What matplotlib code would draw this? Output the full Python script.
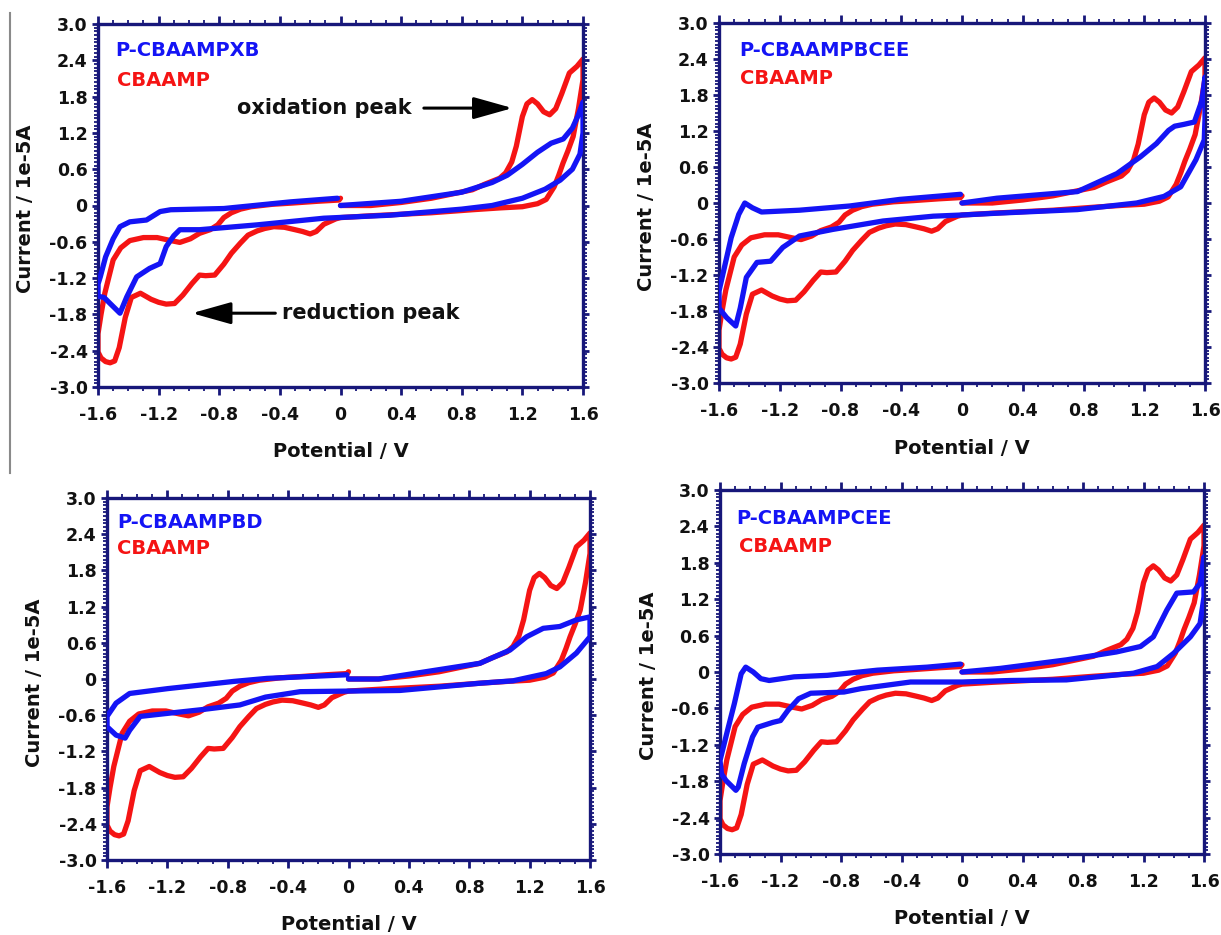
import matplotlib
matplotlib.use("Agg")
import matplotlib.pyplot as plt
from matplotlib.ticker import MultipleLocator, FixedLocator
from matplotlib.lines import Line2D

# ---------------- data (potential in V, current in 1e-5 A), in sweep order ----------------
cbaamp_E = [0.0, 0.2, 0.4, 0.6, 0.87, 0.95, 1.05, 1.09, 1.13, 1.16, 1.20, 1.23, 1.265, 1.30, 1.34,
            1.38, 1.42, 1.46, 1.51, 1.56, 1.60,
            1.60, 1.57, 1.535, 1.50, 1.468, 1.44, 1.41, 1.357, 1.30, 1.20, 1.05, 0.87, 0.6, 0.2, 0.0,
            -0.03, -0.11, -0.16, -0.20, -0.25, -0.30, -0.37, -0.44, -0.50, -0.55, -0.61, -0.66, -0.72,
            -0.77, -0.83, -0.89, -0.93, -0.98, -1.04, -1.095, -1.15, -1.20, -1.25, -1.32, -1.38, -1.42,
            -1.46, -1.49, -1.52, -1.55, -1.58, -1.60,
            -1.60, -1.58, -1.555, -1.53, -1.50, -1.45, -1.39, -1.30, -1.21, -1.12, -1.06, -0.99, -0.93,
            -0.86, -0.81, -0.77, -0.72, -0.66, -0.59, -0.45, -0.32, -0.15, -0.01, 0.0]
cbaamp_I = [0.0, 0.0, 0.05, 0.12, 0.26, 0.35, 0.45, 0.54, 0.72, 0.98, 1.47, 1.68, 1.75, 1.68, 1.55,
            1.50, 1.60, 1.85, 2.19, 2.30, 2.42,
            2.08, 1.60, 1.14, 0.90, 0.70, 0.50, 0.31, 0.10, 0.03, -0.02, -0.04, -0.07, -0.12, -0.17, -0.20,
            -0.22, -0.31, -0.43, -0.47, -0.43, -0.40, -0.36, -0.35, -0.38, -0.42, -0.49, -0.62, -0.79,
            -0.97, -1.15, -1.16, -1.15, -1.29, -1.48, -1.62, -1.63, -1.60, -1.55, -1.45, -1.52, -1.85,
            -2.35, -2.57, -2.60, -2.58, -2.52, -2.42,
            -2.12, -1.80, -1.45, -1.20, -0.90, -0.70, -0.58, -0.53, -0.53, -0.58, -0.61, -0.55, -0.46,
            -0.40, -0.32, -0.20, -0.12, -0.06, -0.02, 0.02, 0.04, 0.07, 0.09, 0.12]

xb_E = [0.0, 0.4, 0.8, 1.0, 1.1, 1.2, 1.3, 1.39, 1.47, 1.53, 1.57, 1.60,
        1.60, 1.58, 1.53, 1.45, 1.35, 1.20, 1.0, 0.8, 0.33, -0.11, -0.55, -0.93, -1.06, -1.10, -1.15,
        -1.19, -1.26, -1.345, -1.41, -1.455, -1.52, -1.56, -1.60,
        -1.60, -1.585, -1.55, -1.50, -1.455, -1.39, -1.28, -1.19, -1.12, -0.77, -0.33, -0.02]
xb_I = [0.0, 0.07, 0.22, 0.38, 0.50, 0.68, 0.88, 1.03, 1.10, 1.28, 1.50, 1.71,
        1.20, 0.85, 0.60, 0.42, 0.27, 0.12, 0.0, -0.06, -0.16, -0.21, -0.32, -0.40, -0.40, -0.50, -0.68,
        -0.96, -1.04, -1.18, -1.51, -1.78, -1.62, -1.52, -1.50,
        -1.30, -1.18, -0.85, -0.55, -0.35, -0.27, -0.24, -0.10, -0.07, -0.05, 0.06, 0.12]

bcee_E = [0.0, 0.23, 0.76, 1.02, 1.175, 1.28, 1.36, 1.40, 1.46, 1.53, 1.58, 1.60,
          1.60, 1.595, 1.54, 1.44, 1.33, 1.15, 0.76, 0.23, 0.0, -0.19, -0.52, -0.85, -1.07, -1.18,
          -1.26, -1.35, -1.42, -1.46, -1.49, -1.55, -1.60,
          -1.60, -1.565, -1.52, -1.47, -1.43, -1.38, -1.32, -1.07, -0.74, -0.41, -0.01]
bcee_I = [0.0, 0.08, 0.19, 0.49, 0.77, 0.99, 1.21, 1.28, 1.31, 1.35, 1.71, 2.10,
          1.40, 1.05, 0.72, 0.27, 0.11, 0.0, -0.11, -0.17, -0.20, -0.22, -0.30, -0.44, -0.55, -0.74,
          -0.97, -0.99, -1.24, -1.75, -2.05, -1.91, -1.75,
          -1.47, -1.08, -0.58, -0.19, 0.0, -0.08, -0.15, -0.12, -0.05, 0.06, 0.145]

bd_E = [0.0, 0.2, 0.87, 1.07, 1.18, 1.29, 1.40, 1.51, 1.60,
        1.60, 1.51, 1.40, 1.31, 1.09, 0.87, 0.34, -0.32, -0.55, -0.72, -0.98, -1.20, -1.38, -1.45,
        -1.48, -1.54, -1.60,
        -1.60, -1.54, -1.45, -1.20, -0.76, -0.54, -0.01]
bd_I = [0.0, 0.0, 0.26, 0.48, 0.70, 0.84, 0.87, 0.98, 1.03,
        0.70, 0.43, 0.20, 0.09, -0.03, -0.07, -0.19, -0.21, -0.30, -0.43, -0.51, -0.57, -0.62, -0.85,
        -0.98, -0.93, -0.79,
        -0.62, -0.40, -0.24, -0.16, -0.04, 0.01, 0.07]

cee_E = [0.0, 0.255, 0.69, 1.02, 1.18, 1.265, 1.354, 1.42, 1.53, 1.574, 1.60,
         1.60, 1.574, 1.51, 1.40, 1.29, 1.134, 0.69, 0.32, 0.0, -0.34, -0.67, -0.78, -1.0, -1.08,
         -1.15, -1.20, -1.25, -1.35, -1.385, -1.44, -1.48, -1.495, -1.56, -1.59,
         -1.60, -1.55, -1.505, -1.46, -1.43, -1.38, -1.33, -1.275, -1.11, -0.89, -0.56, -0.23, -0.01]
cee_I = [0.0, 0.06, 0.20, 0.33, 0.42, 0.58, 1.02, 1.30, 1.32, 1.46, 1.90,
         1.24, 0.80, 0.58, 0.31, 0.09, -0.02, -0.13, -0.14, -0.165, -0.165, -0.275, -0.33, -0.35, -0.44,
         -0.63, -0.80, -0.83, -0.91, -1.07, -1.51, -1.90, -1.95, -1.79, -1.68,
         -1.46, -0.96, -0.52, -0.03, 0.08, 0.0, -0.11, -0.14, -0.08, -0.055, 0.03, 0.08, 0.13]

panel_names = ["P-CBAAMPXB", "P-CBAAMPBCEE", "P-CBAAMPBD", "P-CBAAMPCEE"]
panel_E = [xb_E, bcee_E, bd_E, cee_E]
panel_I = [xb_I, bcee_I, bd_I, cee_I]
ref_name = "CBAAMP"

x_ticks = [-1.6, -1.2, -0.8, -0.4, 0.0, 0.4, 0.8, 1.2, 1.6]
x_ticklabels = ["-1.6", "-1.2", "-0.8", "-0.4", "0", "0.4", "0.8", "1.2", "1.6"]
y_ticks = [3.0, 2.4, 1.8, 1.2, 0.6, 0.0, -0.6, -1.2, -1.8, -2.4, -3.0]
y_ticklabels = ["3.0", "2.4", "1.8", "1.2", "0.6", "0", "-0.6", "-1.2", "-1.8", "-2.4", "-3.0"]

# ---------------- styling ----------------
W, H = 1221, 935
fig = plt.figure(figsize=(W / 100, H / 100), dpi=100)
fig.patch.set_facecolor("white")
plt.rcParams["font.family"] = ["DejaVu Sans"]

NAVY = "#17177a"
BLUE = "#1414f5"
RED = "#f51414"

# axes rectangles in pixels: left, top, right, bottom
rects = [(98, 24, 583, 387), (719, 23, 1205, 383), (107, 498, 590, 860), (720, 490, 1204, 854)]
legend_off = [((17, 26), (19, 56)), ((20, 28), (21, 56)), ((10, 24), (10, 51)), ((16, 28), (19, 57))]

axes = []
for k, (l, t, r, b) in enumerate(rects):
    ax = fig.add_axes([l / W, 1 - b / H, (r - l) / W, (b - t) / H])
    axes.append(ax)
    ax.plot(cbaamp_E, cbaamp_I, color=RED, lw=3.8, solid_joinstyle="round", solid_capstyle="round", zorder=2)
    ax.plot(panel_E[k], panel_I[k], color=BLUE, lw=3.8, solid_joinstyle="round", solid_capstyle="round", zorder=3)
    ax.set_xlim(-1.6, 1.6)
    ax.set_ylim(-3.0, 3.0)
    ax.xaxis.set_major_locator(FixedLocator(x_ticks))
    ax.set_xticklabels(x_ticklabels)
    ax.yaxis.set_major_locator(FixedLocator(y_ticks))
    ax.set_yticklabels(y_ticklabels)
    ax.xaxis.set_minor_locator(MultipleLocator(0.1))
    ax.yaxis.set_minor_locator(MultipleLocator(0.06))
    for sp in ax.spines.values():
        sp.set_color(NAVY)
        sp.set_linewidth(2.4)
    ax.tick_params(which="both", direction="out", top=True, right=True, color=NAVY)
    ax.tick_params(axis="x", which="major", length=5.5, width=2.0, pad=8, labelsize=12.5)
    ax.tick_params(axis="y", which="major", length=4.5, width=2.0, pad=3, labelsize=12.5)
    ax.tick_params(which="minor", length=3, width=1.3)
    for lab in ax.get_xticklabels() + ax.get_yticklabels():
        lab.set_fontweight("bold")
        lab.set_color("#111111")
    pw, ph = r - l, b - t
    ax.set_xlabel("Potential / V", fontsize=14, fontweight="bold", color="#111111", va="center")
    ax.xaxis.set_label_coords(0.5, -65 / ph)
    ax.set_ylabel("Current / 1e-5A", fontsize=14, fontweight="bold", color="#111111", va="center")
    ax.yaxis.set_label_coords(-72 / pw, 0.49)
    (bx, by), (rx, ry) = legend_off[k]
    ax.text(bx / pw, 1 - by / ph, panel_names[k], transform=ax.transAxes, color=BLUE,
            fontsize=14, fontweight="bold", ha="left", va="center")
    ax.text(rx / pw, 1 - ry / ph, ref_name, transform=ax.transAxes, color=RED,
            fontsize=14, fontweight="bold", ha="left", va="center")

# annotations in the first panel
ax = axes[0]
ax.annotate("", xy=(1.135, 1.61), xytext=(0.55, 1.61),
            arrowprops=dict(arrowstyle="-|>,head_length=1.6,head_width=0.45", mutation_scale=15,
                            lw=2.2, color="black", shrinkA=0, shrinkB=0))
ax.text(0.47, 1.61, "oxidation peak", fontsize=15, fontweight="bold", color="#111111",
        ha="right", va="center")
ax.annotate("", xy=(-0.98, -1.78), xytext=(-0.43, -1.78),
            arrowprops=dict(arrowstyle="-|>,head_length=1.6,head_width=0.45", mutation_scale=15,
                            lw=2.2, color="black", shrinkA=0, shrinkB=0))
ax.text(-0.385, -1.78, "reduction peak", fontsize=15, fontweight="bold", color="#111111",
        ha="left", va="center")

# thin grey rule at the left edge of the upper half
fig.add_artist(Line2D([10 / W, 10 / W], [1 - 13 / H, 1 - 473 / H], color="#8a8a8a", lw=1.5))

fig.savefig("out.png", dpi=100, facecolor="white")
